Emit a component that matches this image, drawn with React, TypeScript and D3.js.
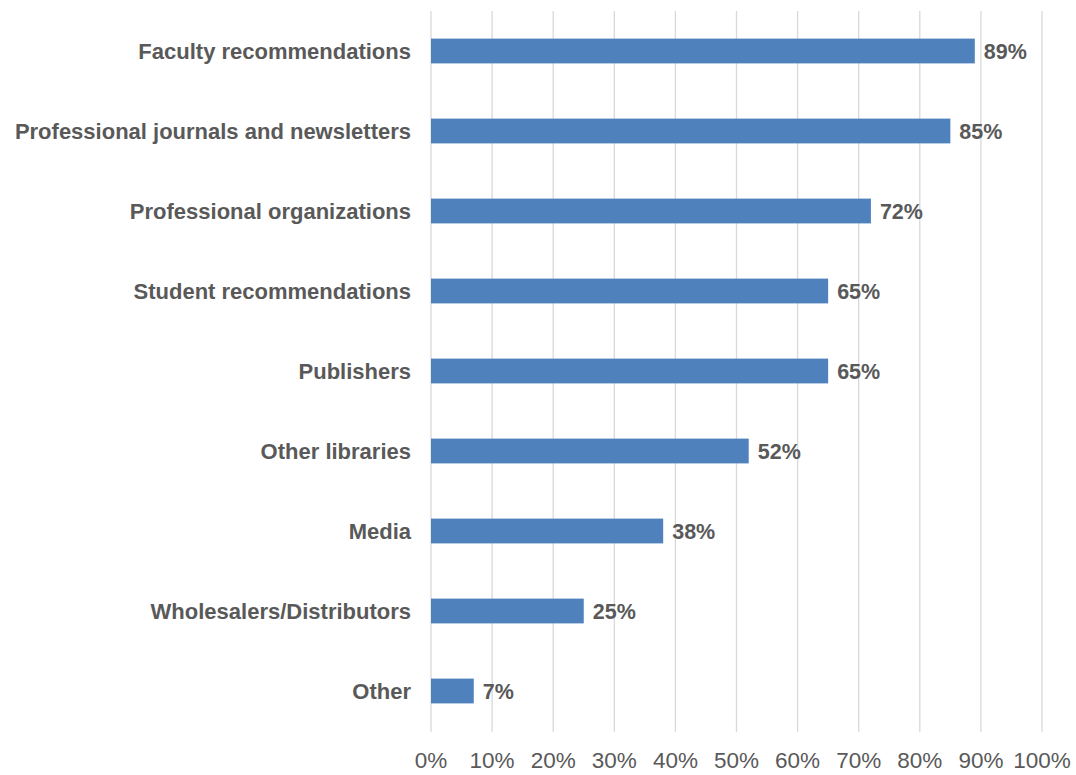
import React from "react";
import * as d3 from "d3";

const categories = [
  "Faculty recommendations",
  "Professional journals and newsletters",
  "Professional organizations",
  "Student recommendations",
  "Publishers",
  "Other libraries",
  "Media",
  "Wholesalers/Distributors",
  "Other",
];
const values = [89, 85, 72, 65, 65, 52, 38, 25, 7];
const tickValues = [0, 10, 20, 30, 40, 50, 60, 70, 80, 90, 100];

const W = 1076;
const H = 775;

export default function App() {
  const x = d3.scaleLinear().domain([0, 100]).range([431, 1042]);
  const y = d3.scaleBand<string>().domain(categories).range([11, 731]).paddingInner(0.69).paddingOuter(0.345);
  const font = "'Liberation Sans', Arial, Helvetica, sans-serif";
  return (
    <svg width={W} height={H} style={{ position: "absolute", left: 0, top: 0, background: "#fff" }} fontFamily={font}>
      {tickValues.map((t) => (
        <line key={"g" + t} x1={x(t)} x2={x(t)} y1={11} y2={732} stroke="#d9d9d9" strokeWidth={1.3} />
      ))}
      {categories.map((c, i) => (
        <g key={c}>
          <rect x={x(0)} y={y(c)!} width={x(values[i]) - x(0)} height={y.bandwidth()} fill="#4F81BD" />
          <text x={411} y={y(c)! + y.bandwidth() / 2} dy="0.35em" textAnchor="end" fontSize={22} fontWeight="bold" fill="#595959">
            {c}
          </text>
          <text x={x(values[i]) + 9} y={y(c)! + y.bandwidth() / 2} dy="0.35em" textAnchor="start" fontSize={21.5} fontWeight="bold" fill="#595959">
            {values[i]}%
          </text>
        </g>
      ))}
      {tickValues.map((t) => (
        <text key={"t" + t} x={x(t)} y={760} dy="0.35em" textAnchor="middle" fontSize={22.5} fill="#595959">
          {t}%
        </text>
      ))}
    </svg>
  );
}
